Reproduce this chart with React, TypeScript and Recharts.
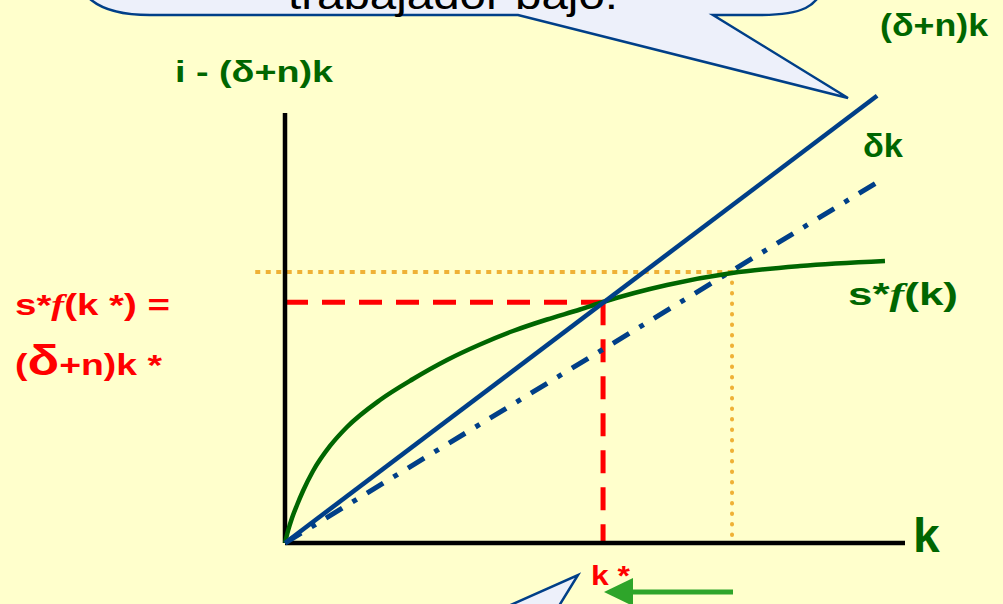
import React from "react";
import { ComposedChart, Line, XAxis, YAxis, ReferenceLine } from "recharts";

// capital per worker (k) grid for the saving curve and its values s*f(k)
const kGrid = [0, 0.48, 1.13, 1.94, 2.9, 4.52, 7.26, 10.0, 15.32, 20.65, 26.13, 31.45, 36.77, 42.26, 47.58, 51.29, 61.61, 72.1, 83.06, 96.77];
const savingValues = [0, 2.79, 5.81, 8.84, 12.09, 16.74, 22.56, 26.98, 33.26, 38.14, 42.56, 46.16, 49.3, 51.98, 54.3, 56.05, 60.0, 62.79, 64.42, 65.58];

// (δ+n)k break-even line
const breakEvenK = [0, 95.5];
const breakEvenValues = [0, 104];

// δk depreciation line
const depreciationK = [0, 96.8];
const depreciationValues = [0, 85];

// steady states
const kStar = 51.3;
const yStar = 56;
const kHigh = 72.1;
const yHigh = 63;
const orangeStartK = -4.8;
const axisTopY = 100;
const axisEndK = 100;

const savingData = kGrid.map((k, i) => ({ k, v: savingValues[i] }));
const breakEvenData = breakEvenK.map((k, i) => ({ k, v: breakEvenValues[i] }));
const depreciationData = depreciationK.map((k, i) => ({ k, v: depreciationValues[i] }));

const BLUE = "#003f88";
const GREEN = "#006600";
const RED = "#ff0000";
const ORANGE = "#efb136";
const BUBBLE = "#edf0fa";
const FONT = "'Liberation Sans', Arial, sans-serif";
const NARROW = "'Liberation Sans Narrow', 'Liberation Sans', Arial, sans-serif";

export default function App() {
  return (
    <div
      style={{
        position: "absolute",
        left: 0,
        top: 0,
        width: 1003,
        height: 604,
        background: "#ffffcc",
        overflow: "hidden",
      }}
    >
      <ComposedChart
        width={1003}
        height={604}
        margin={{ top: 91.5, right: 98, bottom: 26.6, left: 254 }}
      >
        <XAxis type="number" dataKey="k" domain={[-5, 100]} allowDataOverflow hide />
        <YAxis type="number" domain={[-8, 105]} allowDataOverflow hide />
        <ReferenceLine
          segment={[{ x: orangeStartK, y: yHigh }, { x: kHigh, y: yHigh }]}
          stroke={ORANGE}
          strokeWidth={4}
          strokeDasharray="5 5.5"
        />
        <ReferenceLine
          segment={[{ x: kHigh, y: yHigh }, { x: kHigh, y: 0 }]}
          stroke={ORANGE}
          strokeWidth={4}
          strokeDasharray="0.5 10"
          strokeLinecap="round"
        />
        <ReferenceLine
          segment={[{ x: 0, y: yStar }, { x: kStar, y: yStar }]}
          stroke={RED}
          strokeWidth={5}
          strokeDasharray="23 14"
        />
        <ReferenceLine
          segment={[{ x: kStar, y: yStar }, { x: kStar, y: 0 }]}
          stroke={RED}
          strokeWidth={5}
          strokeDasharray="23 14"
        />
        <ReferenceLine
          segment={[{ x: 0, y: 0 }, { x: 0, y: axisTopY }]}
          stroke="#000"
          strokeWidth={4.5}
        />
        <ReferenceLine
          segment={[{ x: 0, y: 0 }, { x: axisEndK, y: 0 }]}
          stroke="#000"
          strokeWidth={4.5}
        />
        <Line
          data={depreciationData}
          dataKey="v"
          type="linear"
          stroke={BLUE}
          strokeWidth={5}
          strokeDasharray="19 12 5 12"
          dot={false}
          activeDot={false}
          isAnimationActive={false}
        />
        <Line
          data={savingData}
          dataKey="v"
          type="monotone"
          stroke={GREEN}
          strokeWidth={4.5}
          dot={false}
          activeDot={false}
          isAnimationActive={false}
        />
        <Line
          data={breakEvenData}
          dataKey="v"
          type="linear"
          stroke={BLUE}
          strokeWidth={4.5}
          dot={false}
          activeDot={false}
          isAnimationActive={false}
        />
      </ComposedChart>

      <svg
        width={1003}
        height={604}
        style={{ position: "absolute", left: 0, top: 0, pointerEvents: "none" }}
      >
        {/* top speech bubble */}
        <path
          d="M 70 -60 C 70 0, 100 15, 150 15 L 518 15 L 848 98 L 713 15 L 760 15 C 800 15, 820 8, 825 -20 L 825 -60 Z"
          fill={BUBBLE}
          stroke={BLUE}
          strokeWidth={2.5}
        />
        <text
          x={288}
          y={9}
          fontFamily={NARROW}
          fontSize={40}
          fill="#000"
          textLength={330}
          lengthAdjust="spacingAndGlyphs"
        >
          trabajador bajo.
        </text>
        {/* bottom speech bubble tail */}
        <path d="M 432 640 L 578 575 L 538 640 Z" fill={BUBBLE} stroke={BLUE} strokeWidth={2.5} />

        {/* green arrow */}
        <line x1={733} y1={592} x2={628} y2={592} stroke="#2ea52a" strokeWidth={5} />
        <path d="M 604 592 L 633 578 L 633 606 Z" fill="#2ea52a" />

        {/* green labels */}
        <text x={880} y={36} fontFamily={NARROW} fontWeight="bold" fontSize={32} fill={GREEN} textLength={108} lengthAdjust="spacingAndGlyphs">
          (δ+n)k
        </text>
        <text x={175} y={82} fontFamily={NARROW} fontWeight="bold" fontSize={29} fill={GREEN} textLength={158} lengthAdjust="spacingAndGlyphs">
          i - (δ+n)k
        </text>
        <text x={863} y={157} fontFamily={FONT} fontWeight="bold" fontSize={33} fill={GREEN} textLength={40} lengthAdjust="spacingAndGlyphs">
          δk
        </text>
        <text x={848} y={305} fontFamily={FONT} fontWeight="bold" fontSize={32} fill={GREEN} textLength={110} lengthAdjust="spacingAndGlyphs">
          s*<tspan fontFamily="'Liberation Serif', serif" fontStyle="italic">f</tspan>(k)
        </text>
        <text x={913} y={552} fontFamily={FONT} fontWeight="bold" fontSize={48} fill={GREEN}>
          k
        </text>

        {/* red labels */}
        <text x={15} y={315} fontFamily={FONT} fontWeight="bold" fontSize={30} fill={RED} textLength={155} lengthAdjust="spacingAndGlyphs">
          s*<tspan fontFamily="'Liberation Serif', serif" fontStyle="italic">f</tspan>(k *) =
        </text>
        <text x={15} y={375} fontFamily={FONT} fontWeight="bold" fontSize={30} fill={RED} textLength={147} lengthAdjust="spacingAndGlyphs">
          (<tspan fontSize={42}>δ</tspan>+n)k *
        </text>
        <text x={591} y={585} fontFamily={FONT} fontWeight="bold" fontSize={28} fill={RED} textLength={39} lengthAdjust="spacingAndGlyphs">
          k *
        </text>
      </svg>
    </div>
  );
}
